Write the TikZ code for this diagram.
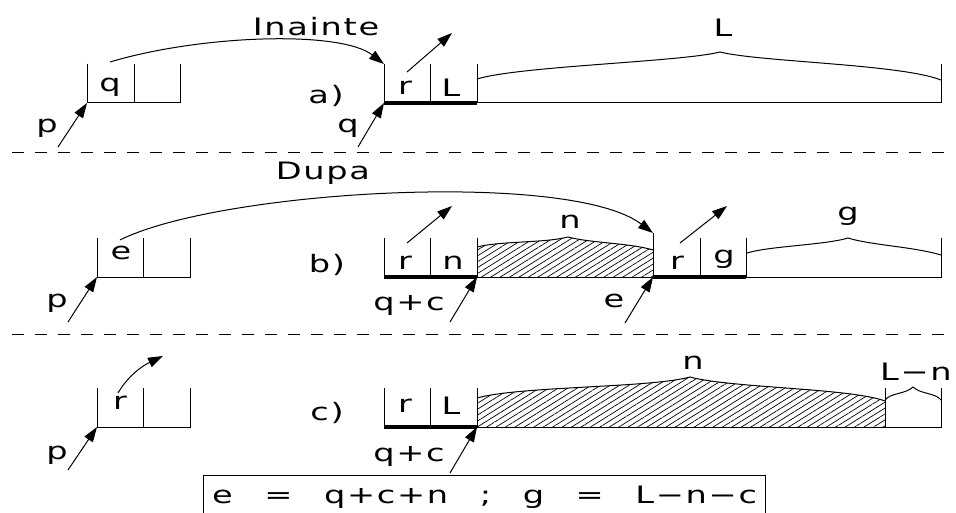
\documentclass[tikz,border=0pt]{standalone}
\usepackage{fontspec}
\setmainfont{DejaVu Sans}[FakeStretch=1.4,LetterSpace=7]
\usetikzlibrary{arrows.meta,patterns.meta}

\begin{document}
\begin{tikzpicture}[x=1pt, y=-1pt, line width=1pt,
        strelka/.style={-{Triangle[length=15pt,width=10pt]}},
        zhirnaya/.style={line width=3.5pt},
        shtrih/.style={pattern={Lines[angle=32,distance=5pt,line width=0.7pt]}},
        razdel/.style={dash pattern=on 12pt off 11pt},
        every node/.style={inner sep=0pt, font=\fontsize{24}{28}\selectfont}]
    \useasboundingbox ( 0, 0 ) rectangle ( 956, 513 );

    % разделители
    \draw [razdel] ( 12, 153 ) -- ( 948, 153 );
    \draw [razdel] ( 12, 334 ) -- ( 948, 334 );

    % ===== a) =====
    % блоки
    \draw ( 87, 64 ) -- ( 87, 103 ) -- ( 180, 103 ) -- ( 180, 64 ) ( 134, 64 ) -- ( 134, 103 );
    \draw ( 384, 64 ) -- ( 384, 103 ) ( 430, 64 ) -- ( 430, 103 ) ( 477, 64 ) -- ( 477, 103 );
    \draw ( 477, 103 ) -- ( 941, 103 ) -- ( 941, 64 );
    \draw [zhirnaya] ( 384, 103 ) -- ( 477, 103 );

    % скобка
    \draw ( 477, 79 ) .. controls ( 520, 66 ) and ( 680, 62 ) .. ( 720, 52 )
        .. controls ( 760, 62 ) and ( 900, 64 ) .. ( 941, 80 );

    % подписи
    \node (lq1) at ( 110, 87 ) {q};
    \node (lp1) at ( 47, 128 ) {p};
    \node (inainte) at ( 316, 27 ) {Inainte};
    \node (la) at ( 326, 96 ) {a)};
    \node (lr1) at ( 405, 88 ) {r};
    \node (lL1) at ( 451, 88 ) {L};
    \node (lq2) at ( 348, 128 ) {q};
    \node (lL2) at ( 723, 28 ) {L};

    % стрелки
    \coordinate (pa) at ( 87, 103 );
    \coordinate (pa0) at ( 58, 147 );
    \coordinate (qa) at ( 384, 103 );
    \coordinate (qa0) at ( 358, 147 );
    \coordinate (sa) at ( 110, 62 );
    \coordinate (ta) at ( 384, 64 );
    \coordinate (ra) at ( 407, 72 );
    \coordinate (ra1) at ( 452, 33 );
    \draw [strelka] (pa0) -- (pa);
    \draw [strelka] (qa0) -- (qa);
    \draw [strelka] (ra) -- (ra1);
    \draw [strelka] (sa) .. controls ( 200, 35 ) and ( 340, 30 ) .. (ta);

    % ===== b) =====
    % штриховка
    \path [shtrih] ( 477, 277 ) -- ( 477, 247 ) .. controls ( 500, 241 ) and ( 545, 243 ) .. ( 568, 237 )
        .. controls ( 590, 243 ) and ( 630, 243 ) .. ( 653, 250 ) -- ( 653, 277 ) -- cycle;

    % блоки
    \draw ( 97, 238 ) -- ( 97, 277 ) -- ( 190, 277 ) -- ( 190, 238 ) ( 143, 238 ) -- ( 143, 277 );
    \draw ( 384, 238 ) -- ( 384, 277 ) ( 430, 238 ) -- ( 430, 277 ) ( 477, 238 ) -- ( 477, 277 );
    \draw ( 477, 277 ) -- ( 653, 277 ) ( 653, 233 ) -- ( 653, 277 );
    \draw ( 700, 238 ) -- ( 700, 277 ) ( 746, 238 ) -- ( 746, 277 );
    \draw ( 746, 277 ) -- ( 941, 277 ) -- ( 941, 238 );
    \draw [zhirnaya] ( 384, 277 ) -- ( 477, 277 );
    \draw [zhirnaya] ( 653, 277 ) -- ( 746, 277 );

    % скобки
    \draw ( 477, 247 ) .. controls ( 500, 241 ) and ( 545, 243 ) .. ( 568, 237 )
        .. controls ( 590, 243 ) and ( 630, 243 ) .. ( 653, 250 );
    \draw ( 747, 253 ) .. controls ( 770, 246 ) and ( 825, 245 ) .. ( 848, 238 )
        .. controls ( 870, 245 ) and ( 915, 247 ) .. ( 941, 255 );

    % подписи
    \node (le1) at ( 121, 253 ) {e};
    \node (lp2) at ( 57, 303 ) {p};
    \node (dupa) at ( 323, 173 ) {Dupa};
    \node (lb) at ( 327, 265 ) {b)};
    \node (lr2) at ( 405, 263 ) {r};
    \node (ln1) at ( 453, 263 ) {n};
    \node (lqc1) at ( 409, 305 ) {q+c};
    \node (ln2) at ( 570, 222 ) {n};
    \node (lr3) at ( 677, 263 ) {r};
    \node (lg1) at ( 724, 259 ) {g};
    \node (le2) at ( 614, 301 ) {e};
    \node (lg2) at ( 848, 216 ) {g};

    % стрелки
    \coordinate (pb) at ( 97, 277 );
    \coordinate (pb0) at ( 68, 322 );
    \coordinate (qb) at ( 477, 277 );
    \coordinate (qb0) at ( 450, 322 );
    \coordinate (eb) at ( 653, 277 );
    \coordinate (eb0) at ( 625, 323 );
    \coordinate (sb) at ( 120, 240 );
    \coordinate (tb) at ( 653, 233 );
    \coordinate (rb) at ( 407, 243 );
    \coordinate (rb1) at ( 452, 206 );
    \coordinate (rc) at ( 680, 243 );
    \coordinate (rc1) at ( 727, 206 );
    \draw [strelka] (pb0) -- (pb);
    \draw [strelka] (qb0) -- (qb);
    \draw [strelka] (eb0) -- (eb);
    \draw [strelka] (rb) -- (rb1);
    \draw [strelka] (rc) -- (rc1);
    \draw [strelka] (sb) .. controls ( 220, 190 ) and ( 570, 170 ) .. (tb);

    % ===== c) =====
    % штриховка
    \path [shtrih] ( 477, 427 ) -- ( 477, 398 ) .. controls ( 520, 386 ) and ( 650, 388 ) .. ( 690, 377 )
        .. controls ( 730, 388 ) and ( 850, 388 ) .. ( 885, 401 ) -- ( 885, 427 ) -- cycle;

    % блоки
    \draw ( 97, 388 ) -- ( 97, 427 ) -- ( 190, 427 ) -- ( 190, 388 ) ( 143, 388 ) -- ( 143, 427 );
    \draw ( 384, 388 ) -- ( 384, 427 ) ( 430, 388 ) -- ( 430, 427 ) ( 477, 388 ) -- ( 477, 427 );
    \draw ( 477, 427 ) -- ( 941, 427 ) -- ( 941, 388 ) ( 885, 388 ) -- ( 885, 427 );
    \draw [zhirnaya] ( 384, 427 ) -- ( 477, 427 );

    % скобки
    \draw ( 477, 398 ) .. controls ( 520, 386 ) and ( 650, 388 ) .. ( 690, 377 )
        .. controls ( 730, 388 ) and ( 850, 388 ) .. ( 885, 401 );
    \draw ( 885, 400 ) .. controls ( 890, 393 ) and ( 906, 394 ) .. ( 913, 387 )
        .. controls ( 920, 394 ) and ( 936, 393 ) .. ( 941, 400 );

    % подписи
    \node (lr4) at ( 120, 403 ) {r};
    \node (lp3) at ( 57, 455 ) {p};
    \node (lc) at ( 327, 413 ) {c)};
    \node (lr5) at ( 405, 406 ) {r};
    \node (lL3) at ( 451, 406 ) {L};
    \node (lqc2) at ( 409, 456 ) {q+c};
    \node (ln3) at ( 693, 363 ) {n};
    \node (lLn) at ( 916, 372 ) {L−n};

    % стрелки
    \coordinate (pc) at ( 97, 427 );
    \coordinate (pc0) at ( 68, 470 );
    \coordinate (qc) at ( 477, 427 );
    \coordinate (qc0) at ( 450, 473 );
    \coordinate (rd) at ( 118, 393 );
    \coordinate (rd1) at ( 163, 356 );
    \draw [strelka] (pc0) -- (pc);
    \draw [strelka] (qc0) -- (qc);
    \draw [strelka] (rd) .. controls ( 128, 376 ) and ( 142, 366 ) .. (rd1);

    % формула
    \node [draw, anchor=north west, minimum width=562pt, minimum height=44pt] (formula) at ( 203, 475 )
        {\makebox[545pt]{e\hfill=\hfill q+c+n\hfill;\hfill g\hfill=\hfill L−n−c}};
\end{tikzpicture}
\end{document}
